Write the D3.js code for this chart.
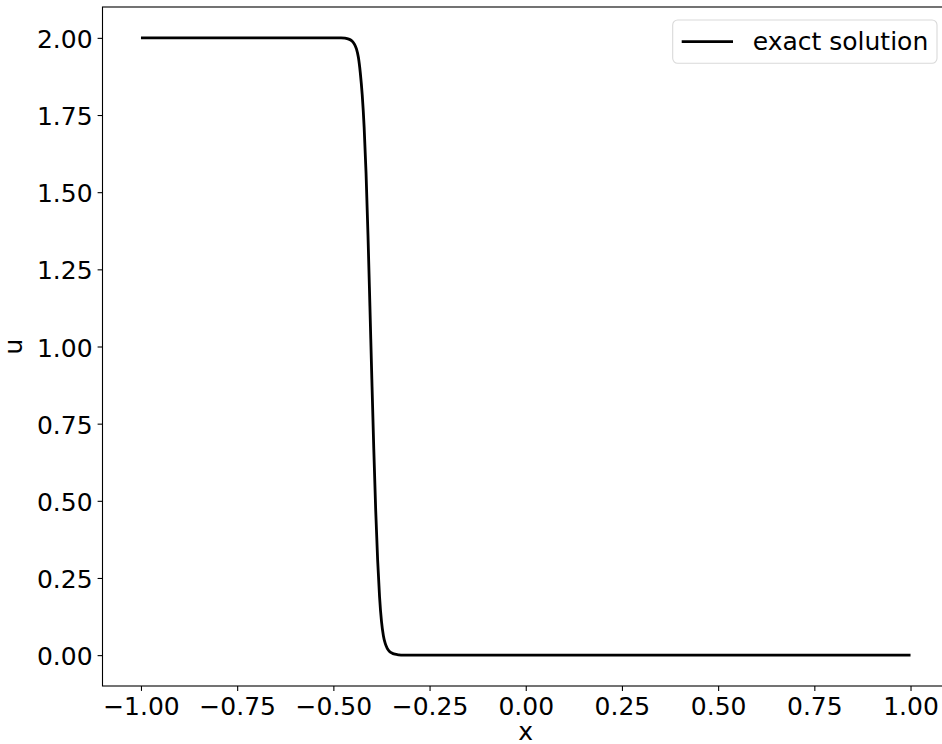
<!DOCTYPE html>
<html>
<head>
<meta charset="utf-8">
<script src="https://cdn.jsdelivr.net/npm/d3@7"></script>
<style>
  html, body { margin: 0; padding: 0; background: #fff; }
  svg { display: block; font-family: "DejaVu Sans", sans-serif; }
</style>
</head>
<body>
<svg id="chart" width="942" height="744"></svg>
<script>
// Sampled profile of the exact solution u(x): left state 2, right state 0,
// with a steep smooth front near x = -0.4.
const xValues = [-1.0, -0.8, -0.6, -0.5, -0.480, -0.470, -0.460, -0.455, -0.450, -0.445,
  -0.440, -0.435, -0.430, -0.425, -0.420, -0.415, -0.410, -0.405, -0.400, -0.395,
  -0.390, -0.385, -0.380, -0.375, -0.370, -0.365, -0.360, -0.355, -0.350, -0.345,
  -0.340, -0.330, -0.320, -0.3, -0.2, 0.0, 0.25, 0.5, 0.75, 1.0];
const uValues = [2.0, 2.0, 2.0, 2.0, 2.0, 1.999, 1.996, 1.993, 1.988, 1.979,
  1.964, 1.937, 1.887, 1.815, 1.710, 1.560, 1.360, 1.130, 0.895, 0.670,
  0.470, 0.310, 0.190, 0.110, 0.063, 0.037, 0.022, 0.013, 0.008, 0.005,
  0.003, 0.001, 0.0, 0.0, 0.0, 0.0, 0.0, 0.0, 0.0, 0.0];

const xTicks = [-1.0, -0.75, -0.5, -0.25, 0.0, 0.25, 0.5, 0.75, 1.0];
const yTicks = [0.0, 0.25, 0.5, 0.75, 1.0, 1.25, 1.5, 1.75, 2.0];
const seriesName = "exact solution";

const svg = d3.select("#chart");
const fontSize = 25;

// Plot area (right edge lies just past the visible canvas)
const plotLeft = 102.5, plotRight = 949, plotTop = 7, plotBottom = 686;

const x = d3.scaleLinear().domain([-1.1, 1.1]).range([plotLeft, plotRight]);
const y = d3.scaleLinear().domain([-0.1, 2.1]).range([plotBottom, plotTop]);

const fmt = v => d3.format(".2f")(v).replace("-", "\u2212");

// Curve
const data = xValues.map((v, i) => ({ x: v, u: uValues[i] }));
const line = d3.line().x(d => x(d.x)).y(d => y(d.u)).curve(d3.curveMonotoneX);
svg.append("path")
  .datum(data)
  .attr("d", line)
  .attr("fill", "none")
  .attr("stroke", "#000")
  .attr("stroke-width", 2.8)
  .attr("stroke-linejoin", "round");

// Axes
const xAxis = d3.axisBottom(x).tickValues(xTicks).tickFormat(fmt).tickSize(4.9).tickPadding(6);
const yAxis = d3.axisLeft(y).tickValues(yTicks).tickFormat(fmt).tickSize(4.9).tickPadding(5);

const gx = svg.append("g").attr("transform", `translate(0,${plotBottom})`).call(xAxis);
const gy = svg.append("g").attr("transform", `translate(${plotLeft},0)`).call(yAxis);

[gx, gy].forEach(g => {
  g.select(".domain").remove();
  g.selectAll(".tick line").attr("stroke", "#000").attr("stroke-width", 1.1);
  g.selectAll(".tick text")
    .attr("fill", "#000")
    .style("font-size", fontSize + "px")
    .style("font-family", "'DejaVu Sans', sans-serif");
});
gx.selectAll(".tick text").attr("dy", null).attr("y", 28.5);
gy.selectAll(".tick text").attr("dy", null).attr("y", 9.5);

// Spines
svg.append("rect")
  .attr("x", plotLeft).attr("y", plotTop)
  .attr("width", plotRight - plotLeft).attr("height", plotBottom - plotTop)
  .attr("fill", "none").attr("stroke", "#000").attr("stroke-width", 1.1);

// Axis labels
svg.append("text")
  .attr("x", (plotLeft + plotRight) / 2).attr("y", 740)
  .attr("text-anchor", "middle")
  .style("font-size", fontSize + "px")
  .text("x");
svg.append("text")
  .attr("transform", `translate(22,${(plotTop + plotBottom) / 2}) rotate(-90)`)
  .attr("text-anchor", "middle")
  .style("font-size", fontSize + "px")
  .text("u");

// Legend
const legend = svg.append("g");
legend.append("rect")
  .attr("x", 672.7).attr("y", 20)
  .attr("width", 264.3).attr("height", 43.3)
  .attr("rx", 5).attr("ry", 5)
  .attr("fill", "#fff").attr("fill-opacity", 0.8)
  .attr("stroke", "#d9d9d9").attr("stroke-width", 1.1);
legend.append("line")
  .attr("x1", 681.7).attr("x2", 733)
  .attr("y1", 41.7).attr("y2", 41.7)
  .attr("stroke", "#000").attr("stroke-width", 2.8);
legend.append("text")
  .attr("x", 752.7).attr("y", 50)
  .style("font-size", fontSize + "px")
  .text(seriesName);
</script>
</body>
</html>
